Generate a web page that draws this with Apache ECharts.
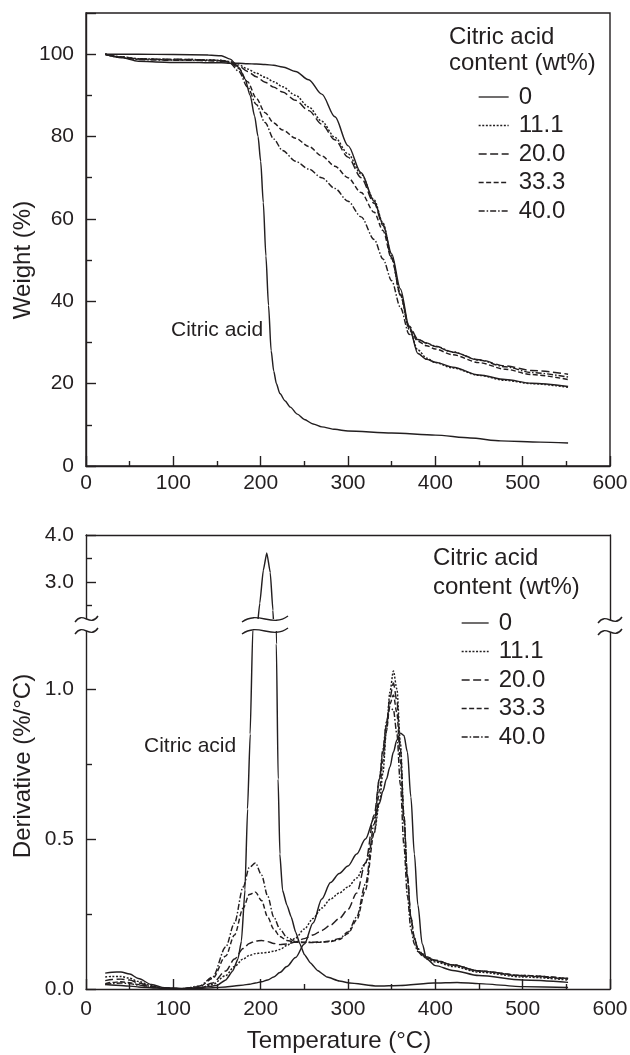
<!DOCTYPE html>
<html>
<head>
<meta charset="utf-8">
<script src="https://cdn.jsdelivr.net/npm/echarts@6/dist/echarts.min.js"></script>
<style>
  html, body { margin: 0; padding: 0; background: #fff; }
  #chart { width: 630px; height: 1055px; }
</style>
</head>
<body>
<div id="chart"></div>
<script>
// ---- data ----
const contents = ['0', '11.1', '20.0', '33.3', '40.0'];

// TGA, weight (%) vs temperature
const tgaTemp = [22, 40, 60, 80, 100, 120, 140, 155, 165, 175, 185, 195, 205, 215, 225, 240, 255, 270, 285, 300, 315, 330, 340, 350, 360, 370, 380, 390, 400, 420, 450, 480, 510, 552];
const tga0  = [100, 99.2, 98.3, 98.1, 98.0, 98.0, 97.9, 97.9, 97.8, 97.8, 97.7, 97.6, 97.5, 97.3, 96.9, 95.8, 93.8, 90.3, 84.8, 77.8, 71.2, 64.3, 58.8, 51.5, 43, 33.8, 27.3, 25.9, 25.2, 24, 22.1, 21, 20.1, 19.3];
const tga11 = [100, 99.4, 98.9, 98.8, 98.7, 98.7, 98.6, 98.5, 98.2, 97.4, 96.4, 95.4, 94.4, 93.3, 92.1, 90, 87.2, 83.7, 79.8, 75.8, 70.9, 64.6, 59, 51, 41.5, 33.2, 28.2, 26.2, 25.1, 23.8, 22, 20.8, 20, 19.1];
const tga20 = [100, 99.3, 98.9, 98.8, 98.8, 98.7, 98.6, 98.5, 98.1, 97.1, 95.8, 94.5, 93.2, 92, 90.8, 88.8, 86.3, 83, 79.2, 75, 70, 63.8, 58.4, 50.6, 41.5, 34, 30.8, 29.8, 29, 27.6, 25.8, 24.3, 23.2, 22.3];
const tga33 = [100, 99.3, 98.8, 98.7, 98.6, 98.6, 98.5, 98.4, 98, 96.5, 93.3, 89.3, 85.8, 83.3, 81.6, 79.6, 77.6, 75.3, 72.8, 70, 66.4, 61.6, 57.2, 50.3, 41.8, 33.5, 30.3, 29.2, 28.4, 27, 25.1, 23.5, 22.2, 21];
const tga40 = [100, 99.2, 98.7, 98.6, 98.5, 98.5, 98.4, 98.3, 97.8, 95.8, 92, 87.8, 83.4, 79.4, 76.6, 74, 72.1, 70, 67.4, 64.3, 60.5, 55, 50.3, 45, 38.5, 32, 30.7, 29.9, 29.1, 27.7, 25.7, 24.1, 22.7, 21.6];

const citricTgaTemp = [22, 60, 100, 140, 155, 165, 175, 182, 188, 193, 197, 200, 203, 206, 209, 212, 215, 218, 222, 228, 234, 242, 250, 260, 270, 285, 300, 350, 400, 440, 475, 520, 552];
const citricTga = [100, 100, 99.9, 99.8, 99.6, 98.8, 96.8, 94, 90, 85, 80, 74, 64, 51, 39, 28, 23, 20, 17.6, 15.8, 14.3, 12.6, 11.3, 10.2, 9.5, 8.9, 8.5, 8, 7.5, 6.8, 6.1, 5.8, 5.6];

// DTG, derivative (%/°C) vs temperature
const dtgTemp = [22, 30, 40, 50, 60, 75, 90, 110, 130, 145, 160, 170, 180, 187, 194, 201, 208, 215, 222, 230, 240, 250, 260, 270, 280, 290, 300, 310, 320, 330, 336, 340, 344, 348, 352, 356, 360, 364, 368, 372, 376, 380, 385, 390, 400, 420, 450, 500, 552];
const dtg0  = [0.053, 0.056, 0.057, 0.05, 0.035, 0.015, 0.004, 0.001, 0.002, 0.004, 0.007, 0.01, 0.013, 0.016, 0.02, 0.024, 0.03, 0.04, 0.055, 0.075, 0.105, 0.15, 0.22, 0.3, 0.355, 0.385, 0.41, 0.45, 0.5, 0.57, 0.62, 0.66, 0.7, 0.74, 0.79, 0.83, 0.853, 0.845, 0.79, 0.64, 0.45, 0.28, 0.15, 0.1, 0.078, 0.062, 0.045, 0.03, 0.022];
const dtg11 = [0.04, 0.042, 0.042, 0.036, 0.025, 0.011, 0.003, 0.001, 0.004, 0.015, 0.045, 0.075, 0.1, 0.112, 0.118, 0.12, 0.122, 0.126, 0.132, 0.145, 0.17, 0.2, 0.235, 0.27, 0.3, 0.32, 0.34, 0.37, 0.42, 0.52, 0.62, 0.72, 0.86, 0.99, 1.06, 1.0, 0.82, 0.58, 0.37, 0.23, 0.165, 0.13, 0.112, 0.102, 0.09, 0.075, 0.056, 0.04, 0.03];
const dtg20 = [0.028, 0.032, 0.033, 0.03, 0.02, 0.009, 0.003, 0.001, 0.004, 0.02, 0.06, 0.1, 0.135, 0.152, 0.16, 0.162, 0.158, 0.152, 0.148, 0.15, 0.157, 0.168, 0.18, 0.195, 0.213, 0.235, 0.265, 0.32, 0.42, 0.58, 0.7, 0.79, 0.88, 0.97, 1.02, 0.96, 0.8, 0.58, 0.38, 0.24, 0.17, 0.135, 0.115, 0.105, 0.095, 0.08, 0.06, 0.043, 0.033];
const dtg33 = [0.018, 0.022, 0.024, 0.021, 0.015, 0.007, 0.002, 0.001, 0.008, 0.035, 0.11, 0.18, 0.27, 0.315, 0.323, 0.295, 0.24, 0.2, 0.175, 0.162, 0.156, 0.155, 0.155, 0.156, 0.158, 0.165, 0.185, 0.23, 0.33, 0.52, 0.66, 0.76, 0.86, 0.95, 0.98, 0.92, 0.76, 0.56, 0.37, 0.24, 0.17, 0.135, 0.118, 0.108, 0.096, 0.08, 0.06, 0.045, 0.035];
const dtg40 = [0.015, 0.018, 0.02, 0.018, 0.013, 0.006, 0.002, 0.001, 0.01, 0.04, 0.14, 0.22, 0.34, 0.405, 0.42, 0.38, 0.31, 0.24, 0.2, 0.172, 0.158, 0.156, 0.156, 0.157, 0.16, 0.168, 0.19, 0.24, 0.35, 0.55, 0.7, 0.8, 0.89, 0.94, 0.93, 0.85, 0.68, 0.48, 0.31, 0.2, 0.15, 0.125, 0.112, 0.104, 0.094, 0.08, 0.06, 0.045, 0.035];

const citricDtgTemp = [22, 40, 60, 80, 100, 130, 150, 160, 168, 174, 178, 182, 185, 188, 191, 195, 199, 203, 207, 211, 214, 216, 218, 220, 222, 225, 230, 235, 240, 245, 250, 257, 265, 276, 290, 302, 333, 360, 398, 425, 450, 500, 552];
const citricDtg = [0.015, 0.012, 0.007, 0.003, 0.002, 0.004, 0.012, 0.03, 0.06, 0.1, 0.16, 0.33, 0.6, 0.85, 1.2, 1.85, 2.55, 3.25, 3.62, 3.2, 2.4, 1.7, 1.15, 0.7, 0.45, 0.33, 0.28, 0.24, 0.19, 0.15, 0.115, 0.087, 0.062, 0.04, 0.027, 0.02, 0.01, 0.012, 0.02, 0.022, 0.018, 0.008, 0.005];

// ---- styling ----
const ink = '#231f20';
const fam = '"Liberation Sans", Arial, sans-serif';
const dashes = { '0': 'solid', '11.1': [2, 1.6], '20.0': [8, 3.5], '33.3': [5, 2.5], '40.0': [6, 2, 1.5, 2] };

function pairs(xs, ys) {
  return xs.map((x, i) => [x, ys[i]]);
}

function line(name, xs, ys, axis, smooth) {
  return {
    name: name,
    type: 'line',
    xAxisIndex: axis,
    yAxisIndex: axis,
    data: pairs(xs, ys),
    symbol: 'none',
    smooth: smooth,
    smoothMonotone: 'x',
    clip: true,
    lineStyle: { color: ink, width: 1.45, type: dashes[name] || 'solid' },
    itemStyle: { color: ink },
    emphasis: { disabled: true }
  };
}

const axisLine = { show: true, onZero: false, lineStyle: { color: ink, width: 1.4 } };
const labelStyle = { color: ink, fontSize: 21, fontFamily: fam };

function xAxis(grid, withTicks, margin) {
  return {
    type: 'value', gridIndex: grid, min: 0, max: 600, interval: 100,
    position: withTicks ? 'bottom' : 'top',
    axisLine: axisLine,
    axisTick: { show: withTicks, inside: true, length: 10, lineStyle: { color: ink, width: 1.4 } },
    minorTick: { show: withTicks, splitNumber: 2, length: 5, lineStyle: { color: ink, width: 1.4 } },
    axisLabel: Object.assign({ show: withTicks, margin: margin }, labelStyle),
    splitLine: { show: false }
  };
}

function yAxis(grid, min, max, interval, fmt) {
  return {
    type: 'value', gridIndex: grid, min: min, max: max, interval: interval,
    axisLine: axisLine,
    axisTick: { show: true, inside: true, length: 10, lineStyle: { color: ink, width: 1.4 } },
    minorTick: { show: true, splitNumber: 2, length: 6, lineStyle: { color: ink, width: 1.4 } },
    axisLabel: Object.assign({ margin: 12, formatter: fmt }, labelStyle),
    splitLine: { show: false }
  };
}

function rightEdge(grid, min, max) {
  return {
    type: 'value', gridIndex: grid, position: 'right', min: min, max: max,
    axisLine: axisLine, axisTick: { show: false }, axisLabel: { show: false }, splitLine: { show: false }
  };
}

const lowMax = 365 / 300; // lower derivative panel, 300 px per unit

const series = [];
series.push(line('Citric acid', citricTgaTemp, citricTga, 0, 0.25));
[tga0, tga11, tga20, tga33, tga40].forEach((ys, i) => series.push(line(contents[i], tgaTemp, ys, 0, 0.3)));
series.push(line('Citric acid', citricDtgTemp, citricDtg, 1, 0.15));
series.push(line('Citric acid', citricDtgTemp, citricDtg, 2, 0.15));
[dtg0, dtg11, dtg20, dtg33, dtg40].forEach((ys, i) => series.push(line(contents[i], dtgTemp, ys, 2, 0.3)));

// break marks on the derivative axis
function squiggle(x0, w, yc) {
  const curve = (y) => ({
    type: 'bezierCurve', z: 101,
    shape: { x1: x0, y1: y + 3, cpx1: x0 + w * 0.35, cpy1: y - 9, cpx2: x0 + w * 0.65, cpy2: y + 9, x2: x0 + w, y2: y - 3 },
    style: { stroke: ink, lineWidth: 1.4, fill: null }
  });
  return [
    { type: 'rect', z: 100, shape: { x: x0, y: yc - 6, width: w, height: 12 }, style: { fill: '#fff' } },
    curve(yc - 6), curve(yc + 6)
  ];
}

function txt(text, x, y, size, rot, align) {
  return {
    type: 'text', z: 100, x: x, y: y, rotation: rot || 0,
    style: { text: text, fill: ink, font: size + 'px ' + fam, textAlign: align || 'left', textVerticalAlign: 'middle', align: align || 'left', verticalAlign: 'middle' }
  };
}

const legendBase = {
  orient: 'vertical', data: contents, itemWidth: 30, itemHeight: 24, itemGap: 4.5, padding: 0,
  selectedMode: false,
  itemStyle: { color: 'rgba(0,0,0,0)', borderWidth: 0, opacity: 0 },
  lineStyle: { width: 1.3 },
  textStyle: { color: ink, fontSize: 24, fontFamily: fam, lineHeight: 24, padding: [0, 0, 0, 5] }
};

const option = {
  animation: false,
  backgroundColor: '#fff',
  grid: [
    { left: 86, right: 20, top: 13, height: 453, show: true, borderColor: ink, borderWidth: 1.4, outerBoundsMode: 'none' },
    { left: 86, right: 20, top: 535, height: 94, outerBoundsMode: 'none' },
    { left: 86, right: 20, top: 624, height: 365, outerBoundsMode: 'none' }
  ],
  xAxis: [xAxis(0, true, 7), xAxis(1, false, 0), xAxis(2, true, 10)],
  yAxis: [
    yAxis(0, 0, 110, 20, v => (v % 20 === 0 ? String(v) : '')),
    yAxis(1, 2, 4, 1, v => (v === 3 || v === 4 ? v.toFixed(1) : '')),
    yAxis(2, 0, lowMax, 0.5, v => (Math.abs(v * 2 - Math.round(v * 2)) < 1e-6 ? v.toFixed(1) : '')),
    rightEdge(1, 2, 4),
    rightEdge(2, 0, lowMax)
  ],
  title: [
    { text: 'Citric acid\ncontent (wt%)', left: 449, top: 24, padding: 0,
      textStyle: { color: ink, fontSize: 24, fontWeight: 'normal', fontFamily: fam, lineHeight: 26 } },
    { text: 'Citric acid\ncontent (wt%)', left: 433, top: 544, padding: 0,
      textStyle: { color: ink, fontSize: 24, fontWeight: 'normal', fontFamily: fam, lineHeight: 29 } }
  ],
  legend: [
    Object.assign({}, legendBase, { left: 478, top: 85 }),
    Object.assign({}, legendBase, { left: 461, top: 611, itemWidth: 27 })
  ],
  graphic: [].concat(
    [
      txt('Weight (%)', 23, 260, 24, Math.PI / 2, 'center'),
      txt('Derivative (%/°C)', 23, 766, 24, Math.PI / 2, 'center'),
      txt('Temperature (°C)', 339, 1041, 24, 0, 'center'),
      txt('Citric acid', 171, 330, 21, 0, 'left'),
      txt('Citric acid', 144, 746, 21, 0, 'left')
    ],
    squiggle(75, 23, 625),
    squiggle(242, 46, 625),
    squiggle(598, 24, 626)
  ),
  series: series
};

const chart = echarts.init(document.getElementById('chart'), null, { renderer: 'canvas' });
chart.setOption(option);
window.addEventListener('resize', function () {
  chart.resize();
});
</script>
</body>
</html>
